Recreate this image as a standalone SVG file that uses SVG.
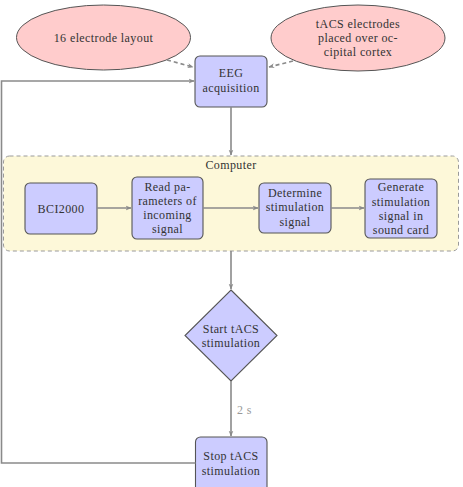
<svg xmlns="http://www.w3.org/2000/svg" width="463" height="487" viewBox="0 0 463 487">
<defs>
<marker id="ah" viewBox="0 0 10 10" refX="9" refY="5" markerWidth="6" markerHeight="6" markerUnits="userSpaceOnUse" orient="auto">
<path d="M0,1 L10,5 L0,9 L3,5 Z" fill="#8a8a8a"/>
</marker>
</defs>
<style>
text{font-family:"Liberation Serif","Times New Roman",serif;font-size:12px;letter-spacing:0.4px;fill:#333;text-anchor:middle}
.box{fill:#ccccff;stroke:#555;stroke-width:1.1}
.ell{fill:#ffcccc;stroke:#555;stroke-width:1}
.ln{fill:none;stroke:#8a8a8a;stroke-width:1.6}
.dash{fill:none;stroke:#8a8a8a;stroke-width:1.6;stroke-dasharray:4,3}
</style>
<rect width="463" height="487" fill="#fff"/>
<g id="computer">
<rect x="3.5" y="156" width="455" height="95" rx="6" fill="#fdf8d9" stroke="#9a9a9a" stroke-width="1" stroke-dasharray="4,3"/>
<text x="231" y="169">Computer</text>
</g>
<g id="layout16">
<ellipse class="ell" cx="103.5" cy="37.5" rx="87" ry="32.5"/>
<text x="103.5" y="42">16 electrode layout</text>
</g>
<g id="tacs-electrodes">
<ellipse class="ell" cx="358" cy="38" rx="87" ry="33"/>
<text x="358" y="28">tACS electrodes</text>
<text x="358" y="42">placed over oc-</text>
<text x="358" y="56">cipital cortex</text>
</g>
<g id="eeg">
<rect class="box" x="195" y="56" width="72" height="51" rx="5"/>
<text x="231" y="77">EEG</text>
<text x="231" y="92">acquisition</text>
</g>
<g id="bci2000">
<rect class="box" x="25" y="183" width="72" height="51" rx="5"/>
<text x="61" y="213">BCI2000</text>
</g>
<g id="read">
<rect class="box" x="132" y="177" width="71" height="62" rx="5"/>
<text x="167.5" y="191">Read pa-</text>
<text x="167.5" y="205">rameters of</text>
<text x="167.5" y="219">incoming</text>
<text x="167.5" y="233">signal</text>
</g>
<g id="determine">
<rect class="box" x="259" y="183" width="72" height="50" rx="5"/>
<text x="295" y="197">Determine</text>
<text x="295" y="211">stimulation</text>
<text x="295" y="226">signal</text>
</g>
<g id="generate">
<rect class="box" x="365" y="179" width="72" height="59" rx="5"/>
<text x="401" y="191">Generate</text>
<text x="401" y="206">stimulation</text>
<text x="401" y="220">signal in</text>
<text x="401" y="234">sound card</text>
</g>
<g id="start">
<polygon class="box" points="231,290 277,335.5 231,381 185,335.5"/>
<text x="231" y="333">Start tACS</text>
<text x="231" y="347">stimulation</text>
</g>
<g id="stop">
<rect class="box" x="195.5" y="437" width="71.5" height="56" rx="5"/>
<text x="231" y="460">Stop tACS</text>
<text x="231" y="475">stimulation</text>
</g>
<g id="connectors">
<path class="dash" d="M167,60 L193,67" marker-end="url(#ah)"/>
<path class="dash" d="M293,61 L269,67" marker-end="url(#ah)"/>
<path class="ln" d="M231,107 L231,155" marker-end="url(#ah)"/>
<path class="ln" d="M97,208 L131,208" marker-end="url(#ah)"/>
<path class="ln" d="M203,208 L258,208" marker-end="url(#ah)"/>
<path class="ln" d="M331,208 L364,208" marker-end="url(#ah)"/>
<path class="ln" d="M231,251 L231,289" marker-end="url(#ah)"/>
<path class="ln" d="M231,381 L231,436" marker-end="url(#ah)"/>
<path class="ln" d="M195.5,463 L1.5,463 L1.5,81 L194,81" marker-end="url(#ah)"/>
<text x="244.5" y="414" style="fill:#999">2 s</text>
</g>
</svg>
